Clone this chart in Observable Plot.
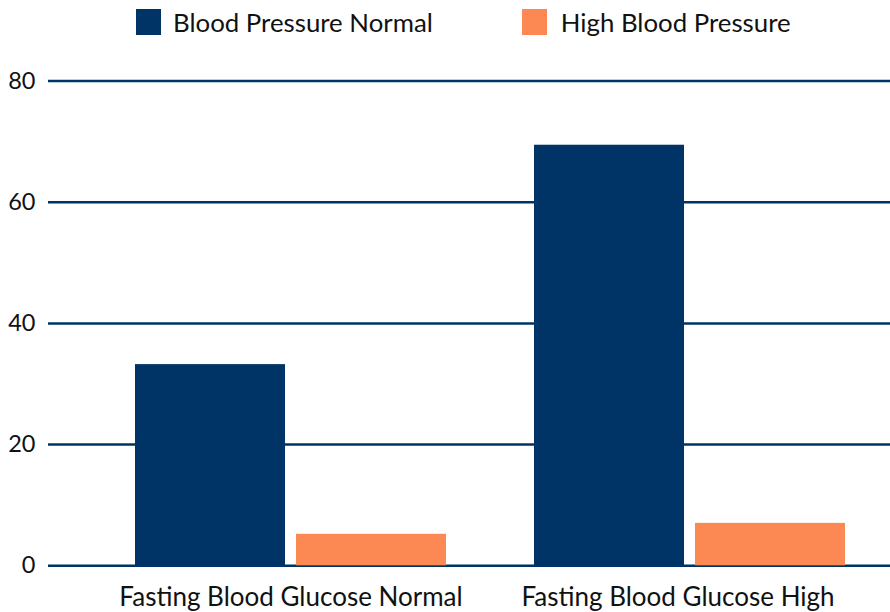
<!DOCTYPE html>
<html>
<head>
<meta charset="utf-8">
<script src="https://cdn.jsdelivr.net/npm/d3@7"></script>
<script src="https://cdn.jsdelivr.net/npm/@observablehq/plot@0.6"></script>
<style>
  html, body { margin: 0; padding: 0; background: #fff; }
  body { font-family: Lato, "Noto Sans", sans-serif; color: #111; width: 890px; }
  #legend { height: 44px; display: flex; align-items: center; padding-left: 136px; box-sizing: border-box; }
  .item { display: flex; align-items: center; font-size: 25.8px; }
  .item + .item { margin-left: 89px; }
  .sw { width: 25px; height: 26px; margin-right: 12px; display: inline-block; }
  .item + .item .sw { margin-right: 14px; }
  #chart svg { display: block; }
</style>
</head>
<body>
<div id="legend"></div>
<div id="chart"></div>
<script>
const groups = ["Fasting Blood Glucose Normal", "Fasting Blood Glucose High"];
const series = ["Blood Pressure Normal", "High Blood Pressure"];
const bpNormal = [33.2, 69.4];
const bpHigh = [5.2, 7.0];
const colors = ["#003366", "#fc8954"];
const yTicks = [0, 20, 40, 60, 80];

const legend = document.getElementById("legend");
series.forEach((s, i) => {
  const it = document.createElement("div");
  it.className = "item";
  const sw = document.createElement("span");
  sw.className = "sw";
  sw.style.background = colors[i];
  it.appendChild(sw);
  const t = document.createElement("span");
  t.textContent = s;
  it.appendChild(t);
  legend.appendChild(it);
});

const dataNormal = groups.map((g, i) => ({group: g, series: series[0], value: bpNormal[i]}));
const dataHigh = groups.map((g, i) => ({group: g, series: series[1], value: bpHigh[i]}));

const chart = Plot.plot({
  width: 890,
  height: 568,
  marginTop: 36.5,
  marginBottom: 46.7,
  marginLeft: 48,
  marginRight: 0,
  style: { fontFamily: "Lato, 'Noto Sans', sans-serif", fontSize: "26px", color: "#111", background: "#fff" },
  x: { domain: groups, paddingInner: 0.22, paddingOuter: 0.165, align: 0.66, label: null },
  y: { domain: [0, 80], ticks: yTicks, label: null },
  color: { domain: series, range: colors },
  marks: [
    Plot.ruleY(yTicks, { stroke: "#003366", strokeWidth: 2.5 }),
    Plot.barY(dataNormal, { x: "group", y: "value", fill: "series", insetRight: 161 }),
    Plot.barY(dataHigh, { x: "group", y: "value", fill: "series", insetLeft: 161 }),
    Plot.axisY({ ticks: yTicks, tickSize: 0, tickPadding: 13, fontSize: 23.5, label: null }),
    Plot.axisX({ ticks: [groups[0]], tickSize: 0, tickPadding: 21.5, fontSize: 26, label: null }),
    Plot.axisX({ ticks: [groups[1]], tickSize: 0, tickPadding: 21.5, fontSize: 26, dx: -12, label: null })
  ]
});
document.getElementById("chart").appendChild(chart);
</script>
</body>
</html>
